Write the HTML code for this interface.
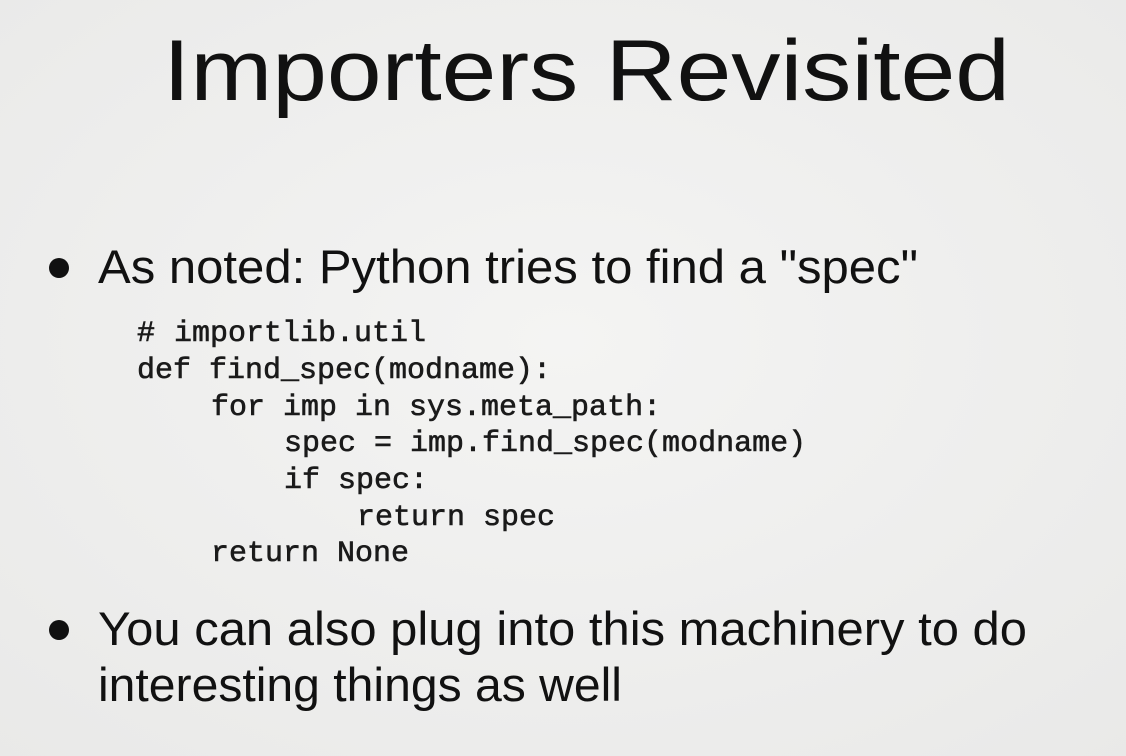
<!DOCTYPE html>
<html><head><meta charset="utf-8"><style>
html,body{margin:0;padding:0;background:#f1f1f0;}
svg{display:block}
</style></head><body>
<svg width="1126" height="756" viewBox="0 0 1126 756" xmlns="http://www.w3.org/2000/svg">
<defs><radialGradient id="bg" cx="50%" cy="45%" r="75%"><stop offset="0" stop-color="#f4f4f3"/><stop offset="1" stop-color="#e9e9e8"/></radialGradient></defs>
<rect width="1126" height="756" fill="url(#bg)"/>
<g font-family="Liberation Sans, sans-serif" fill="#111">
<text x="163" y="100" font-size="86" textLength="847" lengthAdjust="spacingAndGlyphs">Importers Revisited</text>
<circle cx="59" cy="268" r="10"/>
<text x="98" y="283" font-size="47" textLength="820" lengthAdjust="spacingAndGlyphs">As noted: Python tries to find a "spec"</text>
<circle cx="59" cy="630" r="10"/>
<text x="98" y="645" font-size="47" textLength="929" lengthAdjust="spacingAndGlyphs">You can also plug into this machinery to do</text>
<text x="98" y="701" font-size="47" textLength="524" lengthAdjust="spacingAndGlyphs">interesting things as well</text>
</g>
<g font-family="Liberation Mono, monospace" font-size="30" fill="#1a1a1a" stroke="#1a1a1a" stroke-width="0.6" xml:space="preserve">
<text x="137" y="341">#<tspan x="174">importlib.util</tspan></text>
<text x="137" y="378">def find_spec(modname):</text>
<text x="211" y="415">for imp in sys.meta_path:</text>
<text x="284" y="451">spec = imp.find_spec(modname)</text>
<text x="284" y="488">if spec:</text>
<text x="357" y="525">return spec</text>
<text x="211" y="561">return None</text>
</g>
</svg>
</body></html>
